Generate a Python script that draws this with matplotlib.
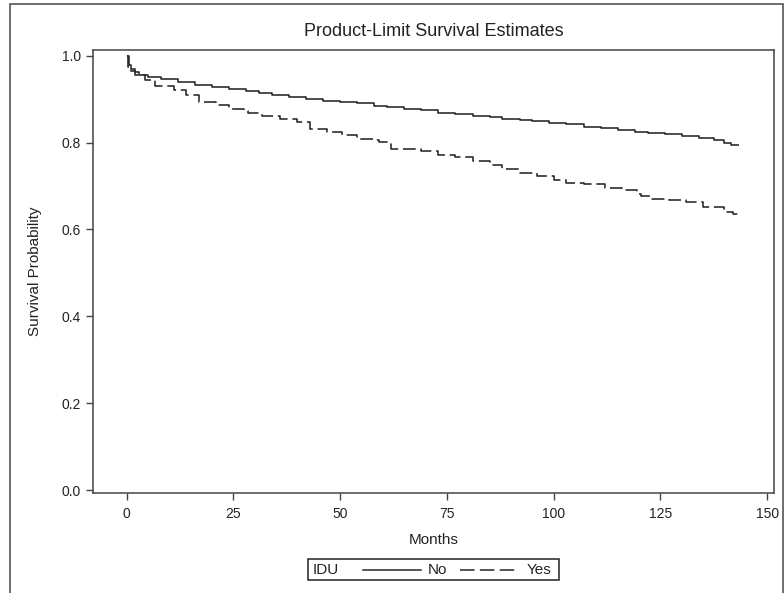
import matplotlib
matplotlib.use("Agg")
import matplotlib.pyplot as plt
from matplotlib.patches import Rectangle
from matplotlib.lines import Line2D

# ---- data ----
no_t = [0, 0.5, 1, 2, 3, 5, 8, 12, 16, 20, 24, 28, 31, 34, 38, 42, 46, 50, 54, 58,
        61, 65, 69, 73, 77, 81, 85, 88, 92, 95, 99, 103, 107, 111, 115, 119, 122,
        126, 130, 134, 137.5, 140, 141.5, 143.3]
no_s = [1.0, 0.979, 0.969, 0.962, 0.955, 0.951, 0.946, 0.939, 0.933, 0.928, 0.923,
        0.919, 0.914, 0.909, 0.904, 0.900, 0.895, 0.893, 0.890, 0.885, 0.882, 0.878,
        0.874, 0.868, 0.865, 0.862, 0.859, 0.855, 0.853, 0.849, 0.846, 0.842, 0.836,
        0.833, 0.830, 0.825, 0.823, 0.819, 0.815, 0.811, 0.806, 0.800, 0.794, 0.794]

yes_t = [0, 0.3, 1, 2, 4.3, 6.7, 11, 14, 17, 21, 24, 27.5, 28.5, 31.7, 36, 40, 43,
         47, 50.5, 54, 58, 59, 62, 65, 69, 73, 77, 81, 85, 88, 92, 96, 100, 103, 107,
         112, 116, 119.5, 120.5, 123, 127, 131, 135, 140, 142, 143.3]
yes_s = [1.0, 0.975, 0.965, 0.955, 0.944, 0.929, 0.92, 0.91, 0.893, 0.886, 0.878,
         0.872, 0.868, 0.861, 0.855, 0.847, 0.832, 0.825, 0.817, 0.807, 0.805, 0.801,
         0.786, 0.785, 0.781, 0.771, 0.766, 0.758, 0.748, 0.739, 0.73, 0.724, 0.714,
         0.707, 0.705, 0.696, 0.691, 0.682, 0.677, 0.67, 0.667, 0.663, 0.652, 0.639,
         0.636, 0.636]

x_ticks = [0, 25, 50, 75, 100, 125, 150]
y_ticks = [0.0, 0.2, 0.4, 0.6, 0.8, 1.0]
y_tick_labels = ["0.0", "0.2", "0.4", "0.6", "0.8", "1.0"]
group_title = "IDU"
group_labels = ["No", "Yes"]

plt.rcParams['font.family'] = ["Liberation Sans", "DejaVu Sans"]
TXT = "#222222"
LINE = "#262626"
SPINE = "#444444"

W, H = 784, 593
fig = plt.figure(figsize=(W / 100, H / 100), dpi=100)
ax = fig.add_axes([93.3 / W, 1 - 492.7 / H, (774 - 93.3) / W, (492.7 - 50) / H])

ax.plot(no_t, no_s, drawstyle="steps-post", color=LINE, lw=1.15, solid_capstyle="butt")
ax.plot(yes_t, yes_s, drawstyle="steps-post", color=LINE, lw=1.15,
        dashes=(8, 3), dash_capstyle="butt")

ax.set_xlim(-7.82, 151.6)
ax.set_ylim(-0.006, 1.013)
ax.set_xticks(x_ticks)
ax.set_yticks(y_ticks)
ax.set_yticklabels(y_tick_labels)
ax.tick_params(direction="out", length=5, width=1.0, color=SPINE,
               labelsize=10, labelcolor=TXT)
ax.tick_params(axis="y", pad=4)
ax.tick_params(axis="x", pad=5)
for s in ax.spines.values():
    s.set_color(SPINE)
    s.set_linewidth(1.1)

ax.set_title("Product-Limit Survival Estimates", fontsize=13, color=TXT, pad=10)
ax.set_xlabel("Months", fontsize=11, color=TXT, labelpad=9)
ax.set_ylabel("Survival Probability", fontsize=11, color=TXT, labelpad=14)

# outer frame
fig.patches.append(Rectangle((9.5 / W, -0.05), (782.5 - 9.5) / W, 1.05 - 4.5 / H,
                             transform=fig.transFigure, fill=False,
                             edgecolor="#555555", lw=1.2))

# legend box
lx0, lx1, ly0, ly1 = 308, 559, 559, 580
fig.patches.append(Rectangle((lx0 / W, 1 - ly1 / H), (lx1 - lx0) / W, (ly1 - ly0) / H,
                             transform=fig.transFigure, fill=False,
                             edgecolor="#222222", lw=1.1))
ymid = 1 - (ly0 + ly1) / 2 / H
fig.text(313 / W, ymid, group_title, fontsize=11, color=TXT, va="center", ha="left")
fig.add_artist(Line2D([363 / W, 421 / W], [ymid, ymid], transform=fig.transFigure,
                      color=LINE, lw=1.1))
fig.text(428 / W, ymid, group_labels[0], fontsize=11, color=TXT, va="center", ha="left")
fig.add_artist(Line2D([460 / W, 516 / W], [ymid, ymid], transform=fig.transFigure,
                      color=LINE, lw=1.1, dashes=(9.5, 3.5)))
fig.text(527 / W, ymid, group_labels[1], fontsize=11, color=TXT, va="center", ha="left")

fig.savefig("out.png", dpi=100)
